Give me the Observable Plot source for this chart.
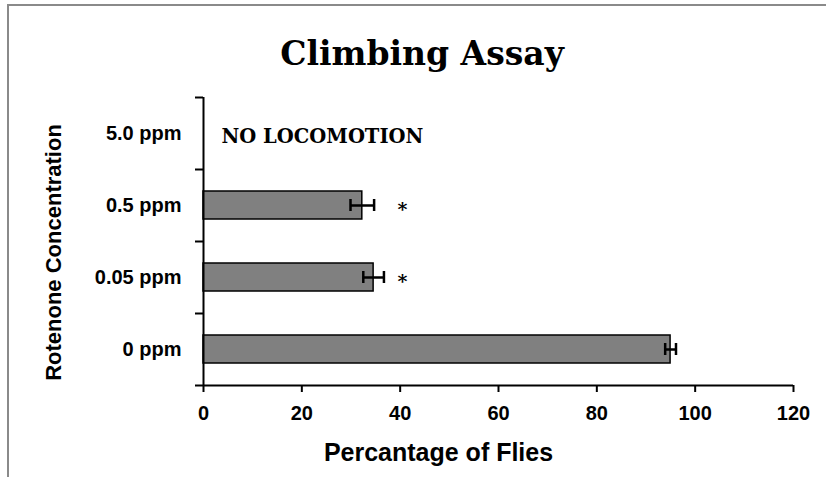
<!DOCTYPE html>
<html><head><meta charset="utf-8">
<script src="https://cdn.jsdelivr.net/npm/d3@7"></script>
<script src="https://cdn.jsdelivr.net/npm/@observablehq/plot@0.6"></script>
<style>
body{margin:0;background:#fff;}
#wrap{position:relative;width:826px;height:477px;overflow:hidden;background:#fff;}
#border{position:absolute;left:7px;top:4px;width:900px;height:600px;border-top:2px solid #8a8a8a;border-left:2px solid #8a8a8a;}
#title{position:absolute;left:18px;top:14px;width:808px;height:80px;line-height:80px;text-align:center;font-family:"DejaVu Serif",serif;font-weight:bold;font-size:33px;color:#000;}
#chart{position:absolute;left:0;top:80px;}
</style></head>
<body>
<div id="wrap">
  <div id="border"></div>
  <div id="title">Climbing Assay</div>
  <div id="chart"></div>
</div>
<script>
const concentrations = ["5.0 ppm", "0.5 ppm", "0.05 ppm", "0 ppm"];
const percentFlies = [0, 32.3, 34.6, 95.0];
const errors = [0, 2.4, 2.1, 1.1];
const significant = [false, true, true, false];
const notes = ["NO LOCOMOTION", "", "", ""];
const xTicks = [0, 20, 40, 60, 80, 100, 120];

const data = concentrations.map((c, i) => ({conc: c, value: percentFlies[i], err: errors[i], sig: significant[i], note: notes[i]}));
const bars = data.filter(d => d.value > 0);
const stars = data.filter(d => d.sig);
const noteRows = data.filter(d => d.note);

const plot = Plot.plot({
  width: 826,
  height: 397,
  marginLeft: 203,
  marginRight: 33,
  marginTop: 17,
  marginBottom: 92,
  style: {fontFamily: '"Liberation Sans", Arial, sans-serif', fontWeight: "bold", fontSize: "20px", color: "#000", background: "transparent", overflow: "visible"},
  x: {domain: [0, 120]},
  y: {type: "band", domain: concentrations, padding: 0},
  marks: [
    Plot.barX(bars, {x: "value", y: "conc", fill: "#808080", stroke: "#000", strokeWidth: 1.5, insetTop: 22, insetBottom: 22}),
    Plot.ruleY(bars, {y: "conc", x1: d => d.value - d.err, x2: d => d.value + d.err, stroke: "#000", strokeWidth: 2.5}),
    Plot.tickX(bars, {x: d => d.value - d.err, y: "conc", insetTop: 30, insetBottom: 30, stroke: "#000", strokeWidth: 2.5}),
    Plot.tickX(bars, {x: d => d.value + d.err, y: "conc", insetTop: 30, insetBottom: 30, stroke: "#000", strokeWidth: 2.5}),
    Plot.text(stars, {y: "conc", text: () => "*", frameAnchor: "left", textAnchor: "middle", dx: 199, dy: 4, fontFamily: '"DejaVu Serif", serif', fontSize: 19, fontWeight: "bold"}),
    Plot.text(noteRows, {y: "conc", text: "note", frameAnchor: "left", textAnchor: "start", dx: 18, dy: 3, fontFamily: '"DejaVu Serif", serif', fontSize: 19.5, fontWeight: "bold"}),
    Plot.ruleX([0], {stroke: "#000", strokeWidth: 2}),
    Plot.ruleY([concentrations[concentrations.length - 1]], {dy: 36, stroke: "#000", strokeWidth: 2}),
    Plot.axisX({ticks: xTicks, tickSize: 7, tickPadding: 13, strokeWidth: 2, label: null}),
    Plot.axisY({tickSize: 0, tickPadding: 22, label: null}),
    Plot.axisY({tickSize: 8, tickFormat: () => "", dy: -36, strokeWidth: 2, label: null}),
    Plot.axisY({ticks: [concentrations[concentrations.length - 1]], tickSize: 8, tickFormat: () => "", dy: 36, strokeWidth: 2, label: null}),
    Plot.text(["Percantage of Flies"], {text: d => d, frameAnchor: "bottom", textAnchor: "middle", lineAnchor: "middle", dx: -60, dy: 67, fontSize: 25}),
    Plot.text(["Rotenone Concentration"], {text: d => d, frameAnchor: "left", textAnchor: "middle", lineAnchor: "middle", rotate: -90, dx: -150, dy: 11, fontSize: 22})
  ]
});
document.getElementById("chart").appendChild(plot);
</script>
</body></html>
